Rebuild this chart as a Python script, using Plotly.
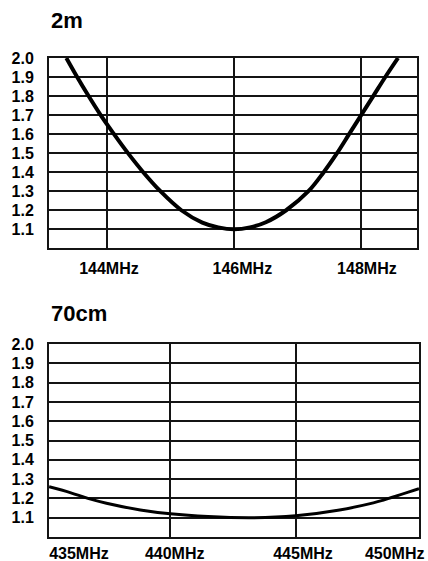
import plotly.graph_objects as go

# ---- data ----
freq_2m = [143.36, 143.53, 143.71, 143.90, 144.11, 144.33, 144.57, 144.84, 145.17, 145.5, 145.75,
           146.0, 146.25, 146.5, 146.82, 147.17, 147.41, 147.62, 147.81, 148.0, 148.19, 148.38, 148.58]
swr_2m = [2.0, 1.9, 1.8, 1.7, 1.6, 1.5, 1.4, 1.3, 1.2, 1.135, 1.11,
          1.1, 1.11, 1.137, 1.2, 1.3, 1.4, 1.5, 1.6, 1.7, 1.8, 1.9, 2.0]

freq_70 = [435.16, 436.0, 436.71, 437.45, 438.8, 440.0, 441.5, 443.3, 445.0, 446.75, 448.1, 448.47, 449.92]
swr_70 = [1.26, 1.23, 1.2, 1.175, 1.14, 1.12, 1.106, 1.10, 1.11, 1.14, 1.177, 1.19, 1.25]

swr_ticks = [1.1, 1.2, 1.3, 1.4, 1.5, 1.6, 1.7, 1.8, 1.9, 2.0]
swr_labels = ["1.1", "1.2", "1.3", "1.4", "1.5", "1.6", "1.7", "1.8", "1.9", "2.0"]

grid_2m = [144, 146, 148]
label_pos_2m = [144.03, 146.13, 148.09]
labels_2m = ["144MHz", "146MHz", "148MHz"]

grid_70 = [440, 445]
label_pos_70 = [436.35, 440.17, 445.29, 448.95]
labels_70 = ["435MHz", "440MHz", "445MHz", "450MHz"]

titles = ["2m", "70cm"]

# ---- figure ----
FONT = "Liberation Sans"
INK = "#141414"

fig = go.Figure()
fig.add_trace(go.Scatter(x=freq_2m, y=swr_2m, mode="lines", xaxis="x", yaxis="y",
                         line=dict(color="black", width=4, shape="spline", smoothing=1.0),
                         showlegend=False, hoverinfo="skip"))
fig.add_trace(go.Scatter(x=freq_70, y=swr_70, mode="lines", xaxis="x2", yaxis="y2",
                         line=dict(color="black", width=3, shape="spline", smoothing=1.0),
                         showlegend=False, hoverinfo="skip"))

ytick_font = dict(family=FONT, size=16, color="black", weight="bold")
xtick_font = dict(family=FONT, size=16, color="black", weight="bold")

common_y = dict(range=[1.0, 2.0], tickmode="array", tickvals=swr_ticks, ticktext=swr_labels,
                showgrid=True, gridcolor=INK, gridwidth=2, zeroline=False,
                showline=True, linecolor=INK, linewidth=2, mirror=True,
                ticks="outside", ticklen=10, tickcolor="rgba(0,0,0,0)",
                tickfont=ytick_font, fixedrange=True, automargin=False)

fig.update_layout(
    width=428, height=561,
    margin=dict(l=49, r=9, t=58, b=24),
    paper_bgcolor="white", plot_bgcolor="white",
    hovermode=False,
    xaxis=dict(domain=[0, 0.9938], anchor="y", range=[143.087, 148.874],
               tickmode="array", tickvals=label_pos_2m, ticktext=labels_2m,
               showgrid=False, zeroline=False,
               showline=True, linecolor=INK, linewidth=2, mirror=True,
               ticks="outside", ticklen=4, tickcolor="rgba(0,0,0,0)",
               tickfont=xtick_font, automargin=False,
               minor=dict(tickmode="array", tickvals=grid_2m, showgrid=True,
                          gridcolor=INK, gridwidth=2, ticks=""),
               fixedrange=True),
    yaxis=dict(domain=[0.6027, 1.0], anchor="x", **common_y),
    xaxis2=dict(domain=[0, 1.0], anchor="y2", range=[435.156, 449.92],
                tickmode="array", tickvals=label_pos_70, ticktext=labels_70,
                showgrid=False, zeroline=False,
                showline=True, linecolor=INK, linewidth=2, mirror=True,
                ticks="outside", ticklen=1, tickcolor="rgba(0,0,0,0)",
                tickfont=xtick_font, automargin=False, ticklabeloverflow="allow",
                minor=dict(tickmode="array", tickvals=grid_70, showgrid=True,
                           gridcolor=INK, gridwidth=2, ticks=""),
                fixedrange=True),
    yaxis2=dict(domain=[0.0, 0.4029], anchor="x2", **common_y),
    annotations=[
        dict(text=titles[0], xref="paper", yref="paper", x=0, y=1.079,
             xanchor="left", yanchor="middle", showarrow=False,
             font=dict(family=FONT, size=22, color="black", weight="bold")),
        dict(text=titles[1], xref="paper", yref="paper", x=0, y=0.4676,
             xanchor="left", yanchor="middle", showarrow=False,
             font=dict(family=FONT, size=22, color="black", weight="bold")),
    ],
)

fig.write_html("out.html",
               config={"displayModeBar": False, "staticPlot": True},
               post_script="document.body.style.margin='0';document.body.style.overflow='hidden';")
